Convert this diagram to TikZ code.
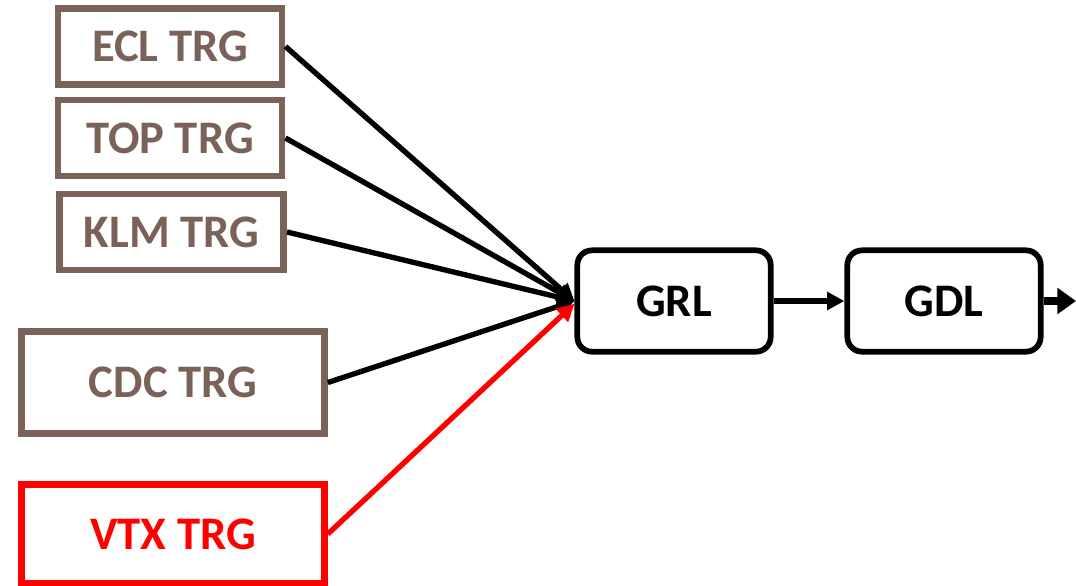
\documentclass[tikz,border=0pt]{standalone}
\usepackage{fontspec}
\setmainfont{Carlito}
\usetikzlibrary{arrows.meta}
\definecolor{trgbrown}{RGB}{122,98,88}
\definecolor{vtxred}{RGB}{255,0,0}

\begin{document}
\begin{tikzpicture}[x=0.75pt,y=-0.75pt,
   lbl/.style={inner sep=0pt,font=\fontsize{35}{38}\selectfont\bfseries},
   trg/.style={lbl,draw=trgbrown,text=trgbrown,line width=5.2pt,
               minimum width=168pt,minimum height=57pt},
   bigtrg/.style={trg,minimum width=227pt,minimum height=76pt},
   blk/.style={lbl,draw,rounded corners=11pt,line width=4.3pt,
               minimum width=145pt,minimum height=76pt},
   conn/.style={line width=4pt,-{Triangle[length=13pt,width=13pt]}},
   outconn/.style={line width=5.4pt,-{Triangle[length=14pt,width=19pt]}}]
   \useasboundingbox (0,0) rectangle (1076,586);

   % sub-detector triggers
   \node[trg] (ecl) at (170,46.5) {ECL TRG};
   \node[trg] (top) at (170,138)  {TOP TRG};
   \node[trg] (klm) at (171.5,232) {KLM TRG};
   \node[bigtrg] (cdc) at (173,382.5) {CDC TRG};
   \node[bigtrg,draw=vtxred,text=vtxred,minimum height=74pt] (vtx) at (173,534) {VTX TRG};

   % global logic
   \node[blk] (grl) at (674,301) {GRL};
   \node[blk] (gdl) at (944,301) {GDL};
   \coordinate (out) at (1076,301);

   \draw[conn] (ecl.east) -- (grl.west);
   \draw[conn] (top.east) -- (grl.west);
   \draw[conn] (klm.east) -- (grl.west);
   \draw[conn] (cdc.east) -- (grl.west);
   \draw[conn,vtxred] (vtx.east) -- ([yshift=-2pt]grl.west);
   \draw[conn] (grl.east) -- (gdl.west);
   \draw[outconn] (gdl.east) -- (out);
\end{tikzpicture}
\end{document}
